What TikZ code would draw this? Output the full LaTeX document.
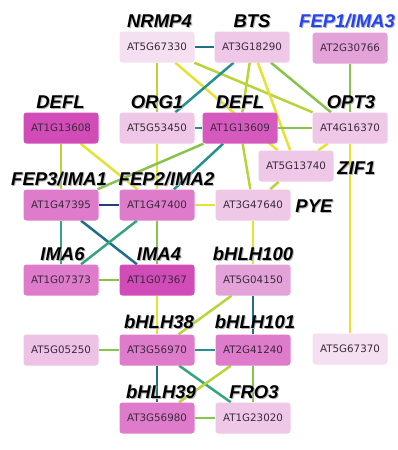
\documentclass[tikz,border=0pt]{standalone}
\usepackage{fontspec}
\setmainfont{Liberation Sans}
\newfontfamily\boxfont{DejaVu Sans}
\usetikzlibrary{backgrounds}
\definecolor{cvl}{HTML}{F5E0F1}
\definecolor{cl}{HTML}{EFC8E7}
\definecolor{cm}{HTML}{E4A3D8}
\definecolor{cmd}{HTML}{DE7BCB}
\definecolor{cd}{HTML}{D24CB8}
\definecolor{boxtext}{HTML}{3A2A3C}
\definecolor{etd}{HTML}{1F6F88}
\definecolor{ete}{HTML}{24918E}
\definecolor{etg}{HTML}{36A47E}
\definecolor{egr}{HTML}{88C34E}
\definecolor{eyg}{HTML}{B8D43A}
\definecolor{eye}{HTML}{E6E232}
\definecolor{enav}{HTML}{2C3A7E}
\definecolor{labblue}{HTML}{2443F5}
\newcommand\glab[5][black]{%
  \node[lab,text=black!30] (#2s) at (#3+1,#4+1) {#5};
  \node[lab,text=#1] (#2) at (#3,#4) {#5};}
\begin{document}
\begin{tikzpicture}[x=1pt,y=-1pt,
  gbox/.style={rectangle,rounded corners=3pt,minimum width=75pt,minimum height=31pt,
    inner sep=0pt,text=boxtext,font=\boxfont\fontsize{10.3}{12}\selectfont},
  lab/.style={anchor=base,inner sep=0pt,font=\bfseries\itshape\fontsize{18.5}{20}\selectfont},
  edge/.style={line width=2.5pt},
  ytd/.style={edge,draw=etd}, yte/.style={edge,draw=ete}, ytg/.style={edge,draw=etg},
  ygr/.style={edge,draw=egr}, yyg/.style={edge,draw=eyg}, yye/.style={edge,draw=eye},
  ynav/.style={edge,draw=enav}]
\useasboundingbox (0,0) rectangle (398,450);
% nodes
\node[gbox,fill=cvl] (n67330) at (157,47) {AT5G67330};
\node[gbox,fill=cl]  (n18290) at (252,47) {AT3G18290};
\node[gbox,fill=cm]  (n30766) at (350,48) {AT2G30766};
\node[gbox,fill=cd]  (n13608) at (61,128) {AT1G13608};
\node[gbox,fill=cl]  (n53450) at (157,128) {AT5G53450};
\node[gbox,fill=cd!92!white] (n13609) at (240,128) {AT1G13609};
\node[gbox,fill=cl]  (n16370) at (350,128) {AT4G16370};
\node[gbox,fill=cl]  (n13740) at (296,166) {AT5G13740};
\node[gbox,fill=cl]  (n47640) at (253,205) {AT3G47640};
\node[gbox,fill=cmd] (n47395) at (61,205) {AT1G47395};
\node[gbox,fill=cmd] (n47400) at (157,205) {AT1G47400};
\node[gbox,fill=cmd] (n07373) at (61,280) {AT1G07373};
\node[gbox,fill=cd]  (n07367) at (157,280) {AT1G07367};
\node[gbox,fill=cm]  (n04150) at (253,280) {AT5G04150};
\node[gbox,fill=cl!85!cm] (n05250) at (61,350) {AT5G05250};
\node[gbox,fill=cmd] (n56970) at (157,350) {AT3G56970};
\node[gbox,fill=cmd] (n41240) at (253,350) {AT2G41240};
\node[gbox,fill=cvl] (n67370) at (350,349) {AT5G67370};
\node[gbox,fill=cmd] (n56980) at (157,418) {AT3G56980};
\node[gbox,fill=cl]  (n23020) at (253,418) {AT1G23020};
% labels
\glab{lNRMP}{159.5}{27.5}{NRMP4}
\glab{lBTS}{252}{27.5}{BTS}
\glab[labblue]{lFEP1}{347}{27.5}{FEP1/IMA3}
\glab{lDEFLa}{60.5}{108.5}{DEFL}
\glab{lORG}{157}{108.5}{ORG1}
\glab{lDEFLb}{240}{108.5}{DEFL}
\glab{lOPT}{351}{108.5}{OPT3}
\glab{lFEP3}{59}{185}{FEP3/IMA1}
\glab{lFEP2}{166.5}{185}{FEP2/IMA2}
\node[lab,text=black!30] (lZIFs) at (357.5,175) {ZIF1};
\node[lab] (lZIF) at (356.5,174) {ZIF1};
\node[lab,text=black!30] (lPYEs) at (315,213) {PYE};
\node[lab] (lPYE) at (314,212) {PYE};
\glab{lIMA6}{62.5}{260}{IMA6}
\glab{lIMA4}{159}{260}{IMA4}
\glab{lbH100}{253}{260}{bHLH100}
\glab{lbH38}{159}{328.5}{bHLH38}
\glab{lbH101}{255}{328.5}{bHLH101}
\glab{lbH39}{161}{398.5}{bHLH39}
\glab{lFRO}{254}{398.5}{FRO3}
% edges
\begin{pgfonlayer}{background}
\fill[white] (0,0) rectangle (398,450);
\draw[ytd] (n67330) -- (n18290);
\draw[yyg] (n67330) -- (n53450);
\draw[yye] (n67330) -- (n13740);
\draw[yyg] (n67330) -- (n16370);
\draw[yte] (n18290) -- (n53450);
\draw[yyg] (n18290) -- (n13609);
\draw[yye] (n18290) -- (n13740);
\draw[ygr] (n18290) -- (n16370);
\draw[ygr] (n30766) -- (n16370);
\draw[yte] (n53450) -- (n13609);
\draw[yye] (n53450) -- (n47400);
\draw[ygr] (n13609) -- (n16370);
\draw[ygr] (n13609) -- (n47395);
\draw[yte] (n13609) -- (n47400);
\draw[yyg] (n13609) -- (n47640);
\draw[yye] (n16370) -- (n13740);
\draw[yye] (n16370) -- (n67370);
\draw[yyg] (n13740) -- (n47640);
\draw[yyg] (n13608) -- (n47395);
\draw[yye] (n13608) -- (n47400);
\draw[ynav] (n47395) -- (n47400);
\draw[ytg] (n47395) -- (n07373);
\draw[ytd] (n47395) -- (n07367);
\draw[ytg] (n47400) -- (n07373);
\draw[ygr] (n47400) -- (n07367);
\draw[yye] (n47400) -- (n47640);
\draw[ygr] (n07373) -- (n07367);
\draw[yye] (n07367) -- (n56970);
\draw[yye] (n47640) -- (n04150);
\draw[yyg] (n04150) -- (n56970);
\draw[ytd] (n04150) -- (n41240);
\draw[ygr] (n05250) -- (n56970);
\draw[yte] (n56970) -- (n41240);
\draw[ytd] (n56970) -- (n56980);
\draw[ytg] (n56970) -- (n23020);
\draw[yyg] (n41240) -- (n56980);
\draw[ygr] (n41240) -- (n23020);
\draw[ygr] (n56980) -- (n23020);
\end{pgfonlayer}
\end{tikzpicture}
\end{document}
